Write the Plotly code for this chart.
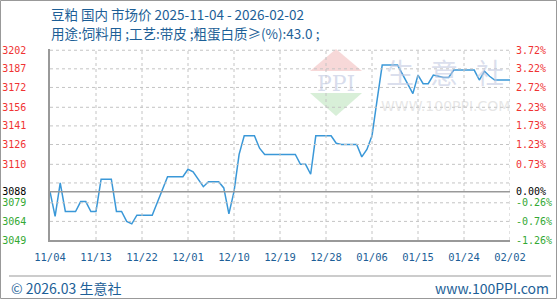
import plotly.graph_objects as go
import pandas as pd

# ---------------- data ----------------
start = pd.Timestamp("2025-11-04")
day_offsets = [0, 1, 2, 3, 5, 6, 7, 8, 9, 10, 12, 13, 14, 15, 16, 17, 20, 21, 22, 23,
               26, 27, 28, 29, 30, 31, 33, 34, 35, 36, 37, 38, 40, 41, 42, 48, 49, 50,
               51, 52, 55, 56, 57, 60, 61, 62, 63, 64, 65, 68, 69, 70, 71, 72, 73, 74,
               75, 76, 77, 78, 79, 83, 84, 85, 86, 87, 90]
prices = [3088, 3068, 3095, 3072, 3072, 3080, 3080, 3072, 3072, 3098, 3098, 3072, 3072, 3064,
          3062, 3069, 3069, 3079, 3089, 3100, 3100, 3106, 3104, 3098, 3092, 3096, 3096, 3091,
          3070, 3088, 3118, 3133, 3133, 3123, 3118, 3118, 3110, 3110, 3102, 3133, 3133, 3127,
          3126, 3126, 3116, 3122, 3133, 3162, 3190, 3190, 3182, 3175, 3167, 3182, 3175, 3175,
          3182, 3181, 3180, 3180, 3186, 3186, 3178, 3185, 3181, 3178, 3178]
dates = [start + pd.Timedelta(days=d) for d in day_offsets]

base_value = 3088
y_tick_vals = [3049, 3064, 3079, 3088, 3095, 3110, 3126, 3141, 3156, 3172, 3187, 3202]
y_tick_labels = ["3049", "3064", "3079", "3088", "", "3110", "3126", "3141", "3156", "3172", "3187", "3202"]
pct_tick_labels = ["-1.26%", "-0.76%", "-0.26%", "0.00%", "", "0.73%", "1.23%", "1.73%",
                   "2.23%", "2.72%", "3.22%", "3.72%"]
x_tick_labels = ["11/04", "11/13", "11/22", "12/01", "12/10", "12/19", "12/28",
                 "01/06", "01/15", "01/24", "02/02"]
x_tick_dates = [start + pd.Timedelta(days=9 * i) for i in range(len(x_tick_labels))]

title1 = "豆粕 国内 市场价 2025-11-04 - 2026-02-02"
title2 = "用途:饲料用 ;工艺:带皮 ;粗蛋白质≥(%):43.0 ;"
footer_left = "© 2026.03 生意社"
footer_right = "www.100PPI.com"

# ---------------- styling ----------------
W, H = 560, 300
L, T, R, B = 50, 49, 510, 240
RED, GREEN, BLACK = "#f03333", "#33a833", "#000000"
BLUE_TXT = "#1d5f97"
LINE = "#3a98d8"
GRID = "#c4c4c4"


def px(x):
    return (x - L) / (R - L)


def py(y):
    return (B - y) / (B - T)


def colour_for(val):
    return RED if val > base_value else (GREEN if val < base_value else BLACK)


def colored(lbl, val):
    if lbl == "":
        return ""
    return f'<span style="color:{colour_for(val)}">{lbl}</span>'


left_text = [colored(l, v) for l, v in zip(y_tick_labels, y_tick_vals)]

y_range = [3049.0, 3203.0]
x_range = [x_tick_dates[0], x_tick_dates[-1]]
tick_font = dict(family="DejaVu Sans Mono", size=10)

fig = go.Figure()
fig.add_trace(go.Scatter(x=dates, y=prices, mode="lines",
                         line=dict(color=LINE, width=1.5),
                         showlegend=False, hoverinfo="skip"))

fig.update_layout(
    width=W, height=H,
    margin=dict(l=L, r=W - R, t=T, b=H - B, pad=0, autoexpand=False),
    paper_bgcolor="white", plot_bgcolor="white",
    xaxis=dict(type="date", automargin=False, range=x_range,
               tickvals=x_tick_dates, ticktext=x_tick_labels,
               tickfont=dict(family="DejaVu Sans Mono", size=10.5, color=BLUE_TXT),
               ticks="", ticklabelstandoff=7,
               showgrid=False,
               showline=True, linecolor="#999999", linewidth=1.5,
               zeroline=False, fixedrange=True),
    yaxis=dict(range=y_range, tickvals=y_tick_vals, ticktext=left_text, automargin=False,
               tickfont=tick_font, ticks="", ticklabelstandoff=20,
               showgrid=False,
               showline=True, linecolor="#999999", linewidth=1.5,
               zeroline=False, fixedrange=True),
)

shapes = []
# watermark logo: red triangle, green inverted triangle
shapes.append(dict(type="path", xref="paper", yref="paper", layer="below",
                   path=f"M {px(310)} {py(71)} L {px(336)} {py(49)} L {px(362)} {py(71)} Z",
                   fillcolor="rgba(244,200,200,0.7)", line=dict(width=0)))
shapes.append(dict(type="path", xref="paper", yref="paper", layer="below",
                   path=f"M {px(310)} {py(93)} L {px(362)} {py(93)} L {px(336)} {py(116)} Z",
                   fillcolor="rgba(200,232,200,0.7)", line=dict(width=0)))
# dashed grid
for d in x_tick_dates[1:]:
    shapes.append(dict(type="line", xref="x", yref="paper", x0=d, x1=d, y0=0, y1=1,
                       layer="above", line=dict(color=GRID, width=1, dash="3px,3px")))
for v in y_tick_vals:
    if v in (base_value, y_tick_vals[0]):
        continue
    shapes.append(dict(type="line", xref="paper", yref="y", x0=0, x1=1, y0=v, y1=v,
                       layer="above", line=dict(color=GRID, width=1, dash="3px,3px")))
# base-value line
shapes.append(dict(type="line", xref="paper", yref="y", x0=0, x1=1, y0=base_value, y1=base_value,
                   line=dict(color="#999999", width=1.5), layer="above"))
# outer frame
shapes.append(dict(type="rect", xref="paper", yref="paper",
                   x0=px(0.5), x1=px(556.5), y0=py(0.5), y1=py(298.5),
                   line=dict(color="#999999", width=1)))
# footer separator
shapes.append(dict(type="line", xref="paper", yref="paper",
                   x0=px(9), x1=px(551), y0=py(276), y1=py(276),
                   line=dict(color="#999999", width=1)))
fig.update_layout(shapes=shapes)

ann = []
cjk = "Noto Sans CJK SC"
# right-hand percentage scale, placed through the y axis
for lbl, v in zip(pct_tick_labels, y_tick_vals):
    if lbl == "":
        continue
    ann.append(dict(text=lbl, xref="paper", yref="y", x=1, y=v, xshift=4,
                    xanchor="left", yanchor="middle", showarrow=False,
                    font=dict(family="DejaVu Sans Mono", size=10, color=colour_for(v))))
ann.append(dict(text=title1, xref="paper", yref="paper", x=px(49), y=py(14),
                xanchor="left", yanchor="middle", showarrow=False,
                font=dict(family=cjk, size=13.5, color=BLUE_TXT)))
ann.append(dict(text=title2, xref="paper", yref="paper", x=px(49), y=py(33),
                xanchor="left", yanchor="middle", showarrow=False,
                font=dict(family=cjk, size=13.5, color=BLUE_TXT)))
ann.append(dict(text=footer_left, xref="paper", yref="paper", x=px(9), y=py(288),
                xanchor="left", yanchor="middle", showarrow=False,
                font=dict(family=cjk, size=14, color=BLUE_TXT)))
ann.append(dict(text=footer_right, xref="paper", yref="paper", x=px(551), y=py(288),
                xanchor="right", yanchor="middle", showarrow=False,
                font=dict(family=cjk, size=14, color=BLUE_TXT)))
# watermark texts
ann.append(dict(text="PPI", xref="paper", yref="paper", x=px(336), y=py(83),
                xanchor="center", yanchor="middle", showarrow=False,
                font=dict(family="DejaVu Serif", size=22, color="rgba(190,198,224,0.6)")))
for ch, cx in zip(["生", "意", "社"], [400, 444, 490]):
    ann.append(dict(text=ch, xref="paper", yref="paper", x=px(cx), y=py(72),
                    xanchor="center", yanchor="middle", showarrow=False,
                    font=dict(family=cjk, size=28, color="rgba(195,202,225,0.6)")))
ann.append(dict(text="WWW.100PPI.COM", xref="paper", yref="paper", x=px(445), y=py(106),
                xanchor="center", yanchor="middle", showarrow=False,
                font=dict(family="DejaVu Sans", size=14, color="rgba(205,205,205,0.5)")))
fig.update_layout(annotations=ann)

fig.write_html("out.html", config={"displayModeBar": False})
